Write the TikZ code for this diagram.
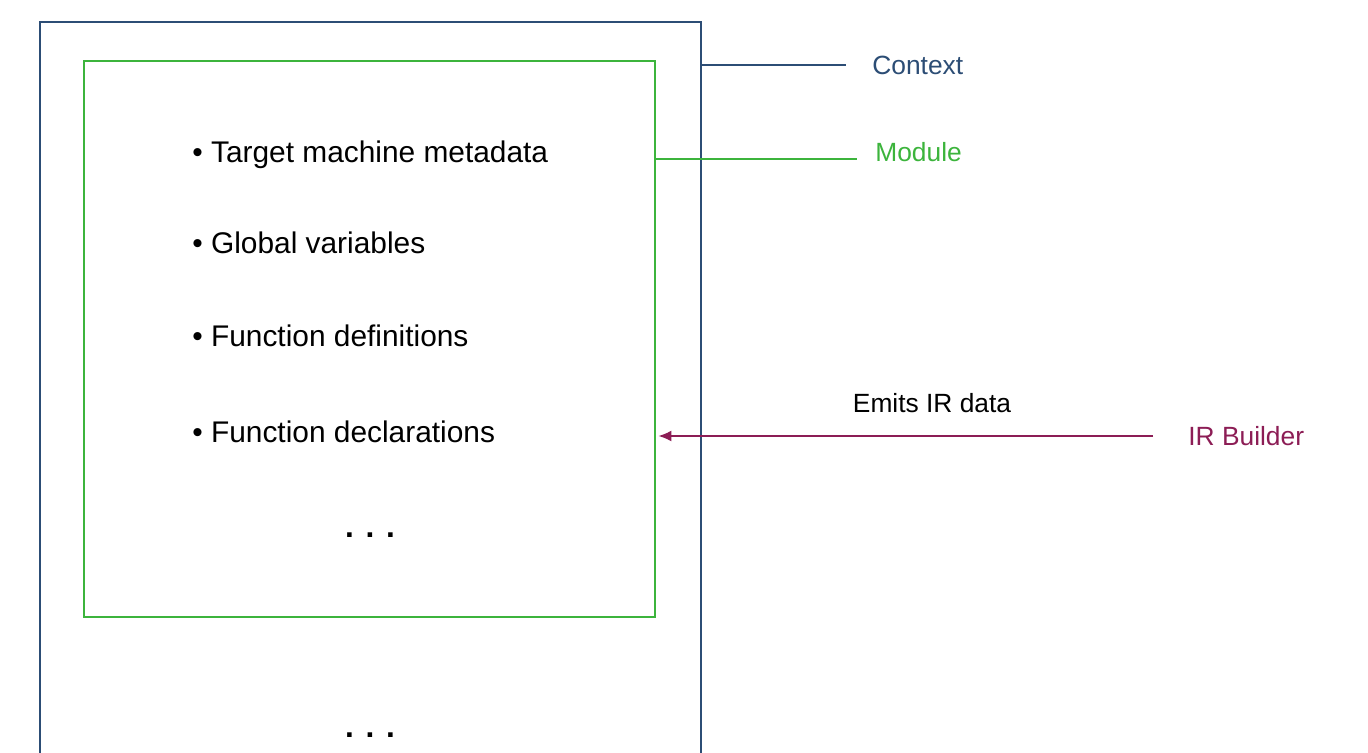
\documentclass[tikz,border=0pt]{standalone}
\usepackage{fontspec}
\setmainfont{Liberation Sans}
\usetikzlibrary{arrows.meta,positioning}
\definecolor{ctxblue}{HTML}{2C4D75}
\definecolor{modgreen}{HTML}{3CB43C}
\definecolor{irred}{HTML}{8C1D55}
\begin{document}
\begin{tikzpicture}[x=0.02cm,y=-0.02cm,>=Latex,
  item/.style={anchor=base west,inner sep=0pt,font=\fontsize{17}{20}\selectfont},
  tag/.style={anchor=west,inner sep=0pt,font=\fontsize{15}{18}\selectfont},
  more/.style={anchor=base,inner sep=0pt,font=\fontsize{18}{20}\selectfont\bfseries},
  frame/.style={line width=1pt},
  la/.style={-{Latex[length=2.6mm,width=2.2mm]},line width=0.9pt,irred}]
\useasboundingbox (0,0) rectangle (1368,753);
% context box, open at the bottom
\draw[frame,ctxblue] (40,770) -- (40,22) -- (701,22) -- (701,770);
\coordinate (ctxpin) at (701,65);
\node[frame,draw=modgreen,minimum width=11.42cm,minimum height=11.12cm,inner sep=0pt]
  (module) at (369.5,339) {};
\coordinate (modpin) at (655,159);
\coordinate (modend) at (857,159);
% module contents
\node[item] (i1) at (192,163) {\textbullet\ Target machine metadata};
\node[item] (i2) at (192,254) {\textbullet\ Global variables};
\node[item] (i3) at (192,346) {\textbullet\ Function definitions};
\node[item] (i4) at (192,442) {\textbullet\ Function declarations};
\node[more] (more1) at (370,537) {. . .};
\node[more] (more2) at (370,737) {. . .};
% labels on the right
\node[tag,text=ctxblue] (ctxlabel) at (872,65) {Context};
\node[tag,text=modgreen] (modlabel) at (875,152) {Module};
\node[tag,text=irred] (irb) at (1188,436) {IR Builder};
\node[tag,anchor=center] (emits) at (932,403) {Emits IR data};
\draw[frame,ctxblue] (ctxpin) -- ([xshift=-0.52cm]ctxlabel.west);
\draw[frame,modgreen] (modpin) -- (modend);
\draw[la] ([xshift=-0.7cm]irb.west) -- ([xshift=1.5pt]module.east |- irb.west);
\end{tikzpicture}
\end{document}
